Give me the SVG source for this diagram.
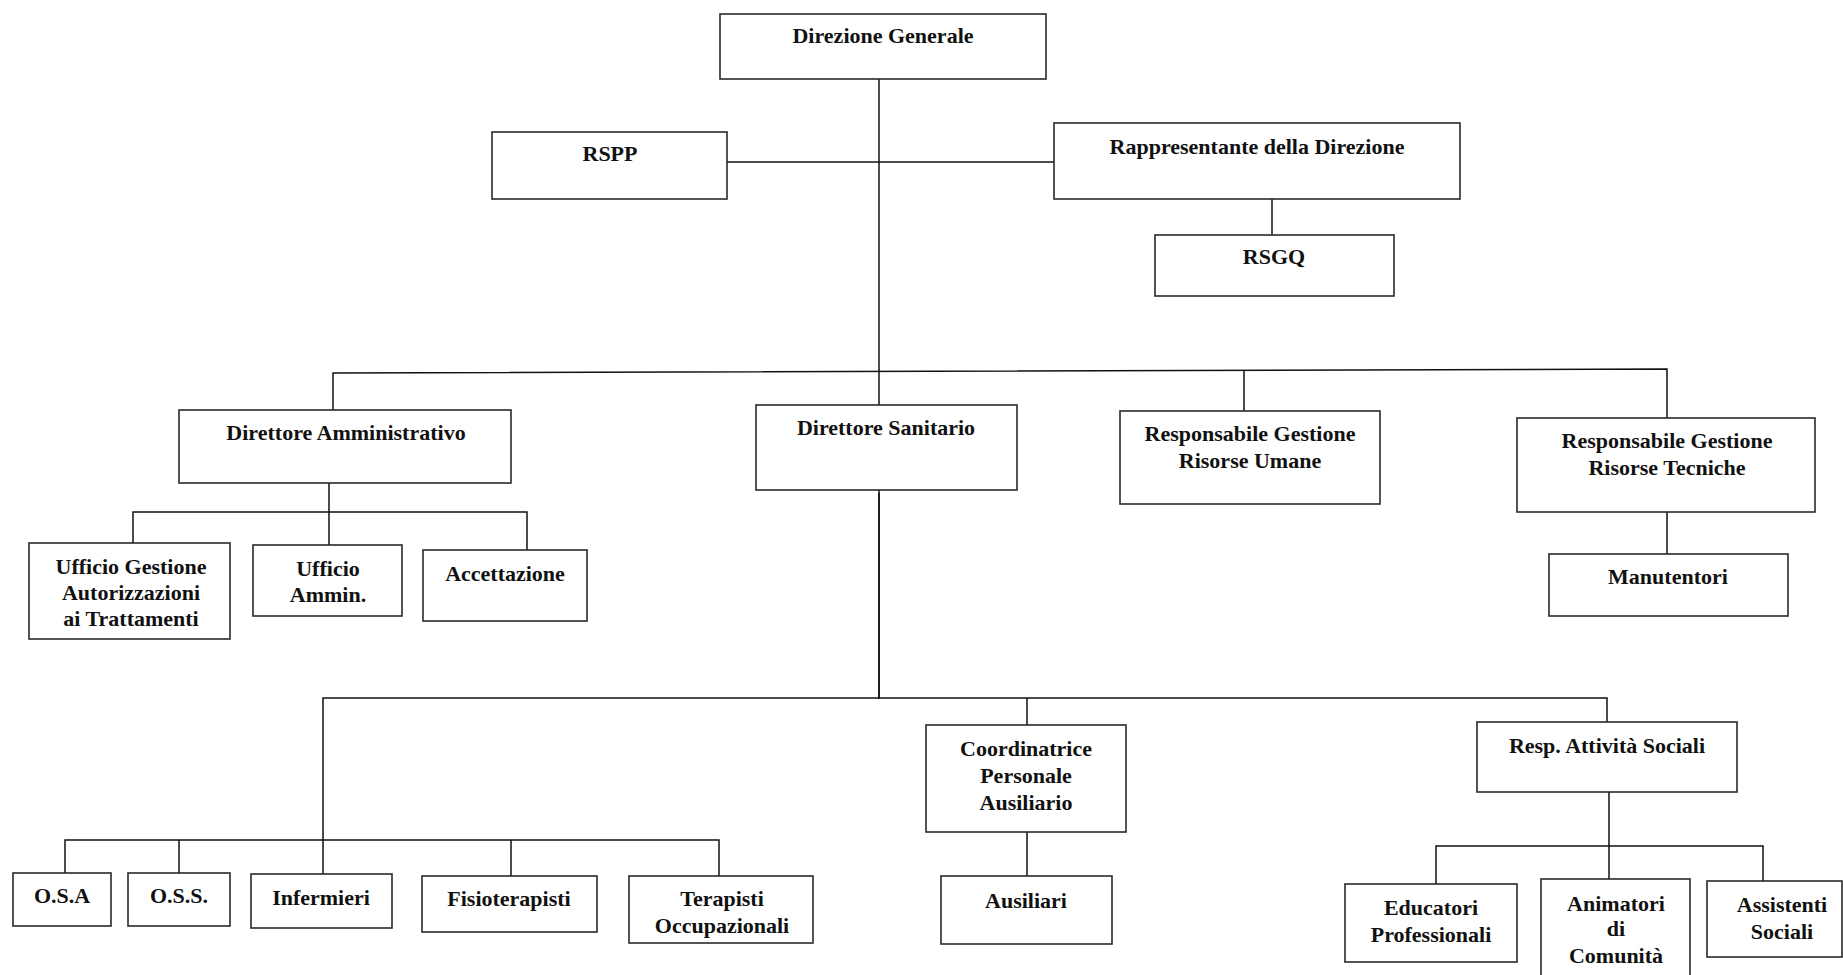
<svg xmlns="http://www.w3.org/2000/svg" width="1843" height="975" viewBox="0 0 1843 975">
<style>
.b{fill:#fff;stroke:#2a2a2a;stroke-width:1.6}
.t{font-family:"Liberation Serif","Times New Roman",serif;font-weight:bold;font-size:22px;fill:#111;text-anchor:middle}
.c{fill:none;stroke:#111;stroke-width:1.5}
</style>
<rect width="1843" height="975" fill="#fff"/>
<g id="connectors">
<path class="c" d="M879,73V699"/>
<path class="c" d="M727,162H1054"/>
<path class="c" d="M1272,197V235"/>
<path class="c" d="M333,410V373L1667,369V418"/>
<path class="c" d="M1244,370V411"/>
<path class="c" d="M1667,512V554"/>
<path class="c" d="M329,483V512M133,543V512H527V550M329,512V545"/>
<path class="c" d="M879,493V699"/>
<path class="c" d="M323,876V698H1607V722M1027,698V725"/>
<path class="c" d="M1027,832V876"/>
<path class="c" d="M1609,792V879M1436,884V846H1763V881"/>
<path class="c" d="M65,876V840H719V878M179,840V876M511,840V876"/>
</g>
<g id="n-direzione-generale"><rect class="b" x="720" y="14" width="326" height="65"/><text class="t" x="883" y="43">Direzione Generale</text></g>
<g id="n-rspp"><rect class="b" x="492" y="132" width="235" height="67"/><text class="t" x="610" y="161">RSPP</text></g>
<g id="n-rappresentante"><rect class="b" x="1054" y="123" width="406" height="76"/><text class="t" x="1257" y="154">Rappresentante della Direzione</text></g>
<g id="n-rsgq"><rect class="b" x="1155" y="235" width="239" height="61"/><text class="t" x="1274" y="264">RSGQ</text></g>
<g id="n-dir-amm"><rect class="b" x="179" y="410" width="332" height="73"/><text class="t" x="346" y="440">Direttore Amministrativo</text></g>
<g id="n-dir-san"><rect class="b" x="756" y="405" width="261" height="85"/><text class="t" x="886" y="435">Direttore Sanitario</text></g>
<g id="n-rgru"><rect class="b" x="1120" y="411" width="260" height="93"/><text class="t" x="1250" y="441">Responsabile Gestione</text><text class="t" x="1250" y="468">Risorse Umane</text></g>
<g id="n-rgrt"><rect class="b" x="1517" y="418" width="298" height="94"/><text class="t" x="1667" y="448">Responsabile Gestione</text><text class="t" x="1667" y="475">Risorse Tecniche</text></g>
<g id="n-manutentori"><rect class="b" x="1549" y="554" width="239" height="62"/><text class="t" x="1668" y="584">Manutentori</text></g>
<g id="n-ugat"><rect class="b" x="29" y="543" width="201" height="96"/><text class="t" x="131" y="574">Ufficio Gestione</text><text class="t" x="131" y="600">Autorizzazioni</text><text class="t" x="131" y="626">ai Trattamenti</text></g>
<g id="n-ufficio-ammin"><rect class="b" x="253" y="545" width="149" height="71"/><text class="t" x="328" y="576">Ufficio</text><text class="t" x="328" y="602">Ammin.</text></g>
<g id="n-accettazione"><rect class="b" x="423" y="550" width="164" height="71"/><text class="t" x="505" y="581">Accettazione</text></g>
<g id="n-coordinatrice"><rect class="b" x="926" y="725" width="200" height="107"/><text class="t" x="1026" y="756">Coordinatrice</text><text class="t" x="1026" y="783">Personale</text><text class="t" x="1026" y="810">Ausiliario</text></g>
<g id="n-ausiliari"><rect class="b" x="941" y="876" width="171" height="68"/><text class="t" x="1026" y="908">Ausiliari</text></g>
<g id="n-resp-att-sociali"><rect class="b" x="1477" y="722" width="260" height="70"/><text class="t" x="1607" y="753">Resp. Attività Sociali</text></g>
<g id="n-educatori"><rect class="b" x="1345" y="884" width="172" height="78"/><text class="t" x="1431" y="915">Educatori</text><text class="t" x="1431" y="942">Professionali</text></g>
<g id="n-animatori"><rect class="b" x="1541" y="879" width="149" height="110"/><text class="t" x="1616" y="911">Animatori</text><text class="t" x="1616" y="936">di</text><text class="t" x="1616" y="963">Comunità</text></g>
<g id="n-assistenti"><rect class="b" x="1707" y="881" width="135" height="76"/><text class="t" x="1782" y="912">Assistenti</text><text class="t" x="1782" y="939">Sociali</text></g>
<g id="n-osa"><rect class="b" x="13" y="873" width="98" height="53"/><text class="t" x="62" y="903">O.S.A</text></g>
<g id="n-oss"><rect class="b" x="128" y="873" width="102" height="53"/><text class="t" x="179" y="903">O.S.S.</text></g>
<g id="n-infermieri"><rect class="b" x="251" y="874" width="141" height="54"/><text class="t" x="321" y="905">Infermieri</text></g>
<g id="n-fisioterapisti"><rect class="b" x="422" y="876" width="175" height="56"/><text class="t" x="509" y="906">Fisioterapisti</text></g>
<g id="n-terapisti"><rect class="b" x="629" y="876" width="184" height="67"/><text class="t" x="722" y="906">Terapisti</text><text class="t" x="722" y="933">Occupazionali</text></g>
</svg>
